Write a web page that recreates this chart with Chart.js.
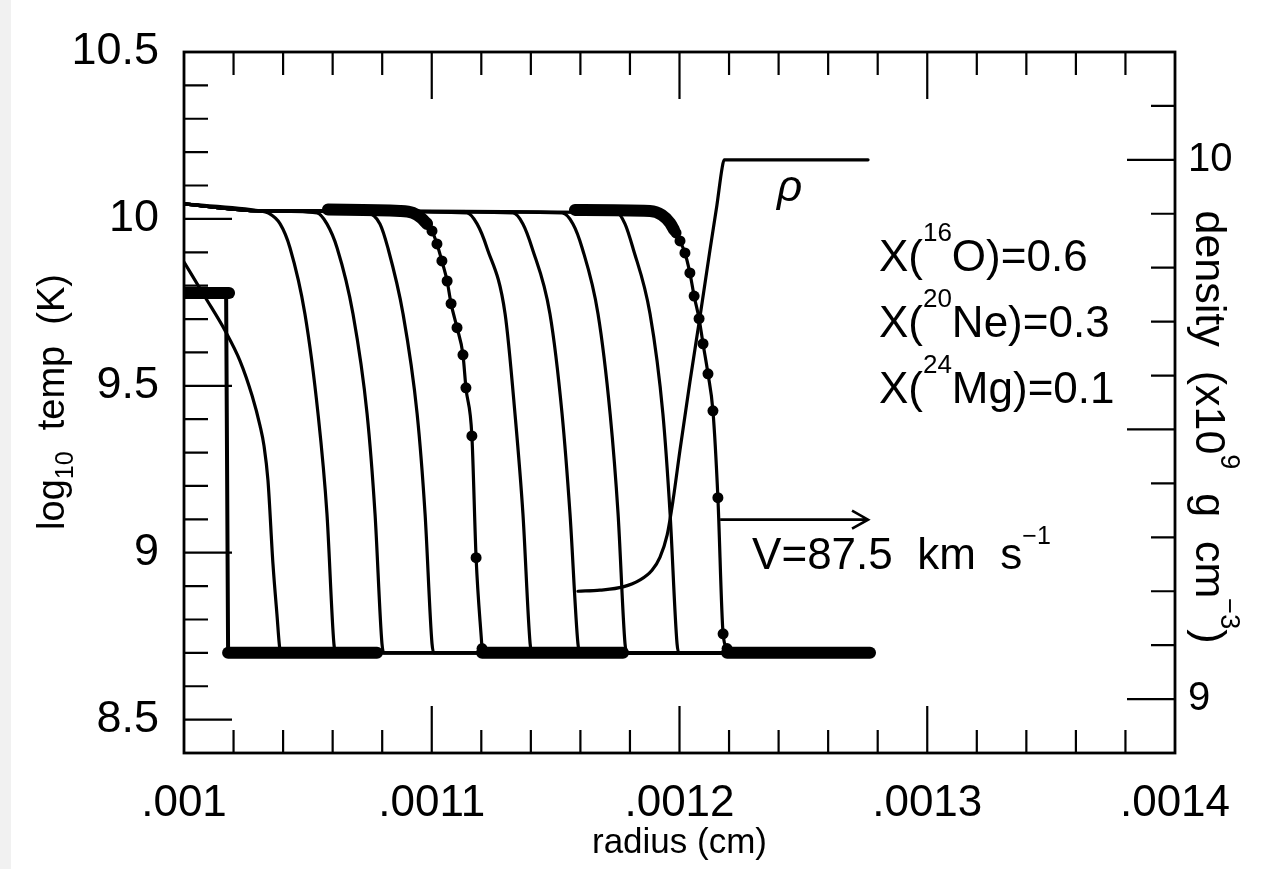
<!DOCTYPE html>
<html>
<head>
<meta charset="utf-8">
<script src="https://cdn.jsdelivr.net/npm/chart.js@4.4.0/dist/chart.umd.min.js"></script>
<style>
  html, body { margin: 0; padding: 0; background: #fff; }
  canvas { display: block; }
</style>
</head>
<body>
<canvas id="chart" width="1280" height="869"></canvas>
<script>
const FONT = '"Liberation Sans", Arial, Helvetica, sans-serif';

// ---- axes ----
const radiusRange = [0.001, 0.0014];
const tempRange = [8.4, 10.5];
const densityRange = [8.9, 10.2];
const radiusTicks = [0.001, 0.0011, 0.0012, 0.0013, 0.0014];
const radiusTickLabels = ['.001', '.0011', '.0012', '.0013', '.0014'];
const tempTicks = [8.5, 9, 9.5, 10, 10.5];
const tempTickLabels = ['8.5', '9', '9.5', '10', '10.5'];
const densityTicks = [9, 10];
const densityTickLabels = ['9', '10'];

// ---- initial temperature profile (dense zoning drawn as heavy bars) ----
const initTopR = [0.0010000, 0.0010182];
const initTopT = [9.778, 9.778];
const initJumpR = [0.0010170, 0.0010178];
const initJumpT = [9.778, 8.700];
const initBotR = [0.0010178, 0.0010779];
const initBotT = [8.700, 8.700];

// ---- first unmarked snapshot (ignition still spreading from the edge) ----
const earlyR = [0.0010000, 0.0010085, 0.0010166, 0.0010226, 0.0010275, 0.0010307, 0.0010323,
                0.0010339, 0.0010359, 0.0010375, 0.0010388, 0.0010396, 0.0012769];
const earlyT = [9.871, 9.766, 9.665, 9.575, 9.470, 9.380, 9.320,
                9.216, 8.967, 8.817, 8.707, 8.700, 8.700];

// ---- burned plateau and unburned floor shared by the front snapshots ----
const plateauR = [0.0010000, 0.0010307];
const plateauT = [10.045, 10.024];
const floorR = [0.0012769];
const floorT = [8.700];

// temperatures at which each front's radius was taken
const frontT = [10.018, 9.985, 9.913, 9.716, 9.416, 9.117, 8.728, 8.700];
const front1R = [0.0010339, 0.0010388, 0.0010428, 0.0010488, 0.0010541, 0.0010577, 0.0010605, 0.0010614];
const front2R = [0.0010537, 0.0010577, 0.0010618, 0.0010682, 0.0010739, 0.0010771, 0.0010799, 0.0010807];
const front3R = [0.0010739, 0.0010791, 0.0010823, 0.0010884, 0.0010941, 0.0010973, 0.0011001, 0.0011009];
const front5R = [0.0011142, 0.0011183, 0.0011223, 0.0011296, 0.0011336, 0.0011368, 0.0011397, 0.0011405];
const front6R = [0.0011328, 0.0011368, 0.0011405, 0.0011477, 0.0011526, 0.0011558, 0.0011590, 0.0011598];
const front7R = [0.0011526, 0.0011570, 0.0011607, 0.0011671, 0.0011720, 0.0011752, 0.0011780, 0.0011788];
const front8R = [0.0011748, 0.0011780, 0.0011812, 0.0011881, 0.0011933, 0.0011962, 0.0011990, 0.0011998];

// ---- marked snapshot 4: dense zones + individual zones through the front ----
const snap4TopR = [0.0010581, 0.0010872, 0.0010924, 0.0010957, 0.0010981];
const snap4TopT = [10.028, 10.024, 10.018, 10.003, 9.985];
const snap4ZoneR = [0.0010981, 0.0011001, 0.0011021, 0.0011041, 0.0011062, 0.0011078,
                    0.0011102, 0.0011126, 0.0011138, 0.0011162, 0.0011179, 0.0011203];
const snap4ZoneT = [9.988, 9.964, 9.925, 9.874, 9.814, 9.746,
                    9.674, 9.593, 9.494, 9.350, 8.985, 8.713];
const snap4BotR = [0.0011203, 0.0011772];
const snap4BotT = [8.700, 8.700];

// ---- marked snapshot 9 ----
const snap9TopR = [0.0011578, 0.0011881, 0.0011929, 0.0011962, 0.0011978];
const snap9TopT = [10.027, 10.024, 10.012, 9.988, 9.967];
const snap9ZoneR = [0.0011986, 0.0012002, 0.0012022, 0.0012042, 0.0012059, 0.0012079,
                    0.0012095, 0.0012115, 0.0012135, 0.0012155, 0.0012176, 0.0012192];
const snap9ZoneT = [9.958, 9.934, 9.898, 9.838, 9.769, 9.701,
                    9.626, 9.536, 9.425, 9.165, 8.757, 8.713];
const snap9BotR = [0.0012192, 0.0012769];
const snap9BotT = [8.700, 8.700];

// ---- density profile (right axis, units of 1e9 g cm^-3, log10) ----
const rhoR = [0.0011590, 0.0011679, 0.0011772, 0.0011841, 0.0011889, 0.0011921, 0.0011950, 0.0011974,
              0.0012002, 0.0012042, 0.0012083, 0.0012123, 0.0012151, 0.0012172, 0.0012180, 0.0012761];
const rhoD = [9.200, 9.202, 9.208, 9.221, 9.239, 9.263, 9.304, 9.369,
              9.462, 9.588, 9.710, 9.833, 9.916, 9.985, 10.000, 10.000];

// ---------------------------------------------------------------------------
function pts(rs, vs) { return rs.map((r, i) => ({ x: r, y: vs[i] })); }
function frontCurve(rs) {
  return pts([...plateauR, ...rs, ...floorR], [...plateauT, ...frontT, ...floorT]);
}

const THIN = 3.2, HEAVY = 12;
function line(data, width, extra) {
  return Object.assign({
    data, showLine: true, borderColor: '#000', backgroundColor: '#000',
    borderWidth: width, pointRadius: 0, pointHoverRadius: 0,
    cubicInterpolationMode: 'monotone', borderCapStyle: 'round', borderJoinStyle: 'round',
    clip: 0, yAxisID: 'y'
  }, extra || {});
}
function zones(data) {
  return line(data, THIN, { pointRadius: 5.5, pointBorderWidth: 0, pointBackgroundColor: '#000' });
}

const datasets = [
  line(pts(initTopR, initTopT), HEAVY),
  line(pts(initJumpR, initJumpT), 4),
  line(pts(initBotR, initBotT), HEAVY),
  line(pts(earlyR, earlyT), THIN),
  line(frontCurve(front1R), THIN),
  line(frontCurve(front2R), THIN),
  line(frontCurve(front3R), THIN),
  line(pts(snap4TopR, snap4TopT), HEAVY),
  zones(pts(snap4ZoneR, snap4ZoneT)),
  line(pts(snap4BotR, snap4BotT), HEAVY),
  line(frontCurve(front5R), THIN),
  line(frontCurve(front6R), THIN),
  line(frontCurve(front7R), THIN),
  line(frontCurve(front8R), THIN),
  line(pts(snap9TopR, snap9TopT), HEAVY),
  zones(pts(snap9ZoneR, snap9ZoneT)),
  line(pts(snap9BotR, snap9BotT), HEAVY),
  line(pts(rhoR, rhoD), THIN, { yAxisID: 'y2' })
];

// ---- text helpers ----
function fontOf(r) { return (r.italic ? 'italic ' : '') + r.size + 'px ' + FONT; }
function runsWidth(ctx, runs) {
  let w = 0;
  for (const r of runs) { ctx.font = fontOf(r); w += ctx.measureText(r.t).width; }
  return w;
}
function drawRuns(ctx, runs, x, y) {
  for (const r of runs) {
    ctx.font = fontOf(r);
    ctx.fillText(r.t, x, y + (r.dy || 0));
    x += ctx.measureText(r.t).width;
  }
}

const frameAndLabels = {
  id: 'frameAndLabels',
  beforeDraw(chart) {
    const ctx = chart.ctx;
    ctx.save();
    ctx.fillStyle = '#fff';
    ctx.fillRect(0, 0, chart.width, chart.height);
    ctx.fillStyle = '#f1f1f1';
    ctx.fillRect(0, 0, 11, chart.height);
    ctx.restore();
  },
  afterDatasetsDraw(chart) {
    const { ctx, chartArea: a, scales: { x, y, y2 } } = chart;
    const X = v => x.getPixelForValue(v);
    const Y = v => y.getPixelForValue(v);
    ctx.save();
    ctx.strokeStyle = '#000';
    ctx.fillStyle = '#000';

    // inward ticks
    ctx.lineWidth = 2.2;
    ctx.beginPath();
    for (let i = 1; i < 20; i++) {
      const px = X(radiusRange[0] + i * 0.00002);
      const len = i % 5 === 0 ? 47 : 23;
      ctx.moveTo(px, a.bottom); ctx.lineTo(px, a.bottom - len);
      ctx.moveTo(px, a.top); ctx.lineTo(px, a.top + len);
    }
    for (let i = 1; i <= 20; i++) {
      const py = Y(tempRange[0] + i * 0.1);
      const len = (i - 1) % 5 === 0 ? 48 : 24;
      ctx.moveTo(a.left, py); ctx.lineTo(a.left + len, py);
    }
    for (let i = 1; i <= 12; i++) {
      const py = y2.getPixelForValue(densityRange[0] + i * 0.1);
      const len = (i - 1) % 5 === 0 ? 48 : 24;
      ctx.moveTo(a.right, py); ctx.lineTo(a.right - len, py);
    }
    ctx.stroke();

    // frame
    ctx.lineWidth = 2.8;
    ctx.strokeRect(a.left, a.top, a.right - a.left, a.bottom - a.top);

    // velocity arrow
    const ay = Y(9.099), ax0 = X(0.0012164), ax1 = X(0.0012761);
    ctx.lineWidth = 2.6;
    ctx.beginPath();
    ctx.moveTo(ax0, ay); ctx.lineTo(ax1, ay);
    ctx.moveTo(ax1 - 16, ay - 9); ctx.lineTo(ax1, ay); ctx.lineTo(ax1 - 16, ay + 9);
    ctx.stroke();

    ctx.textAlign = 'left';
    ctx.textBaseline = 'alphabetic';

    // rho label
    drawRuns(ctx, [{ t: 'ρ', size: 44, italic: true }], X(0.0012394), Y(10.054));

    // composition
    const cx = X(0.0012805);
    drawRuns(ctx, [{ t: 'X(', size: 44 }, { t: '16', size: 26, dy: -30 }, { t: 'O)=0.6', size: 44 }], cx, Y(9.844));
    drawRuns(ctx, [{ t: 'X(', size: 44 }, { t: '20', size: 26, dy: -30 }, { t: 'Ne)=0.3', size: 44 }], cx, Y(9.647));
    drawRuns(ctx, [{ t: 'X(', size: 44 }, { t: '24', size: 26, dy: -30 }, { t: 'Mg)=0.1', size: 44 }], cx, Y(9.449));

    // front speed
    drawRuns(ctx, [{ t: 'V=87.5  km  s', size: 44 }, { t: '−1', size: 25, dy: -25 }], X(0.0012293), Y(8.952));

    // x-axis title
    const xt = [{ t: 'radius (cm)', size: 35 }];
    drawRuns(ctx, xt, (a.left + a.right) / 2 - runsWidth(ctx, xt) / 2, 853);

    // left axis title
    const lt = [{ t: 'log', size: 38 }, { t: '10', size: 25, dy: 9 }, { t: '  temp  (K)', size: 38 }];
    ctx.save();
    ctx.translate(64, 402);
    ctx.rotate(-Math.PI / 2);
    drawRuns(ctx, lt, -runsWidth(ctx, lt) / 2, 0);
    ctx.restore();

    // right axis title
    const rt = [{ t: 'density  (x10', size: 43 }, { t: '9', size: 27, dy: -25 },
                { t: '  g  cm', size: 43 }, { t: '−3', size: 27, dy: -25 }, { t: ')', size: 43 }];
    ctx.save();
    ctx.translate(1196, 427);
    ctx.rotate(Math.PI / 2);
    drawRuns(ctx, rt, -runsWidth(ctx, rt) / 2, 0);
    ctx.restore();

    ctx.restore();
  }
};

function fixedTicks(values) {
  return s => { s.ticks = values.map(v => ({ value: v })); };
}

new Chart(document.getElementById('chart'), {
  type: 'scatter',
  data: { datasets },
  options: {
    responsive: false,
    animation: false,
    devicePixelRatio: 1,
    layout: { padding: { top: 52, left: 0, right: 0, bottom: 0 } },
    plugins: { legend: { display: false }, tooltip: { enabled: false } },
    elements: { line: { tension: 0 } },
    scales: {
      x: {
        type: 'linear', position: 'bottom',
        min: radiusRange[0], max: radiusRange[1],
        afterBuildTicks: fixedTicks(radiusTicks),
        afterFit: s => { s.height = 116; },
        grid: { display: false, drawTicks: false },
        border: { display: false },
        ticks: {
          callback: (v, i) => radiusTickLabels[i],
          font: { family: FONT, size: 44 }, color: '#000',
          padding: 24, maxRotation: 0, autoSkip: false
        }
      },
      y: {
        type: 'linear', position: 'left',
        min: tempRange[0], max: tempRange[1],
        afterBuildTicks: fixedTicks(tempTicks),
        afterFit: s => { s.width = 184; },
        grid: { display: false, drawTicks: false },
        border: { display: false },
        ticks: {
          callback: (v, i) => tempTickLabels[i],
          font: { family: FONT, size: 45 }, color: '#000',
          padding: 25, autoSkip: false
        }
      },
      y2: {
        type: 'linear', position: 'right',
        min: densityRange[0], max: densityRange[1],
        afterBuildTicks: fixedTicks(densityTicks),
        afterFit: s => { s.width = 105; },
        grid: { display: false, drawTicks: false },
        border: { display: false },
        ticks: {
          callback: (v, i) => densityTickLabels[i],
          font: { family: FONT, size: 40 }, color: '#000',
          padding: 13, autoSkip: false
        }
      }
    }
  },
  plugins: [frameAndLabels]
});
</script>
</body>
</html>
